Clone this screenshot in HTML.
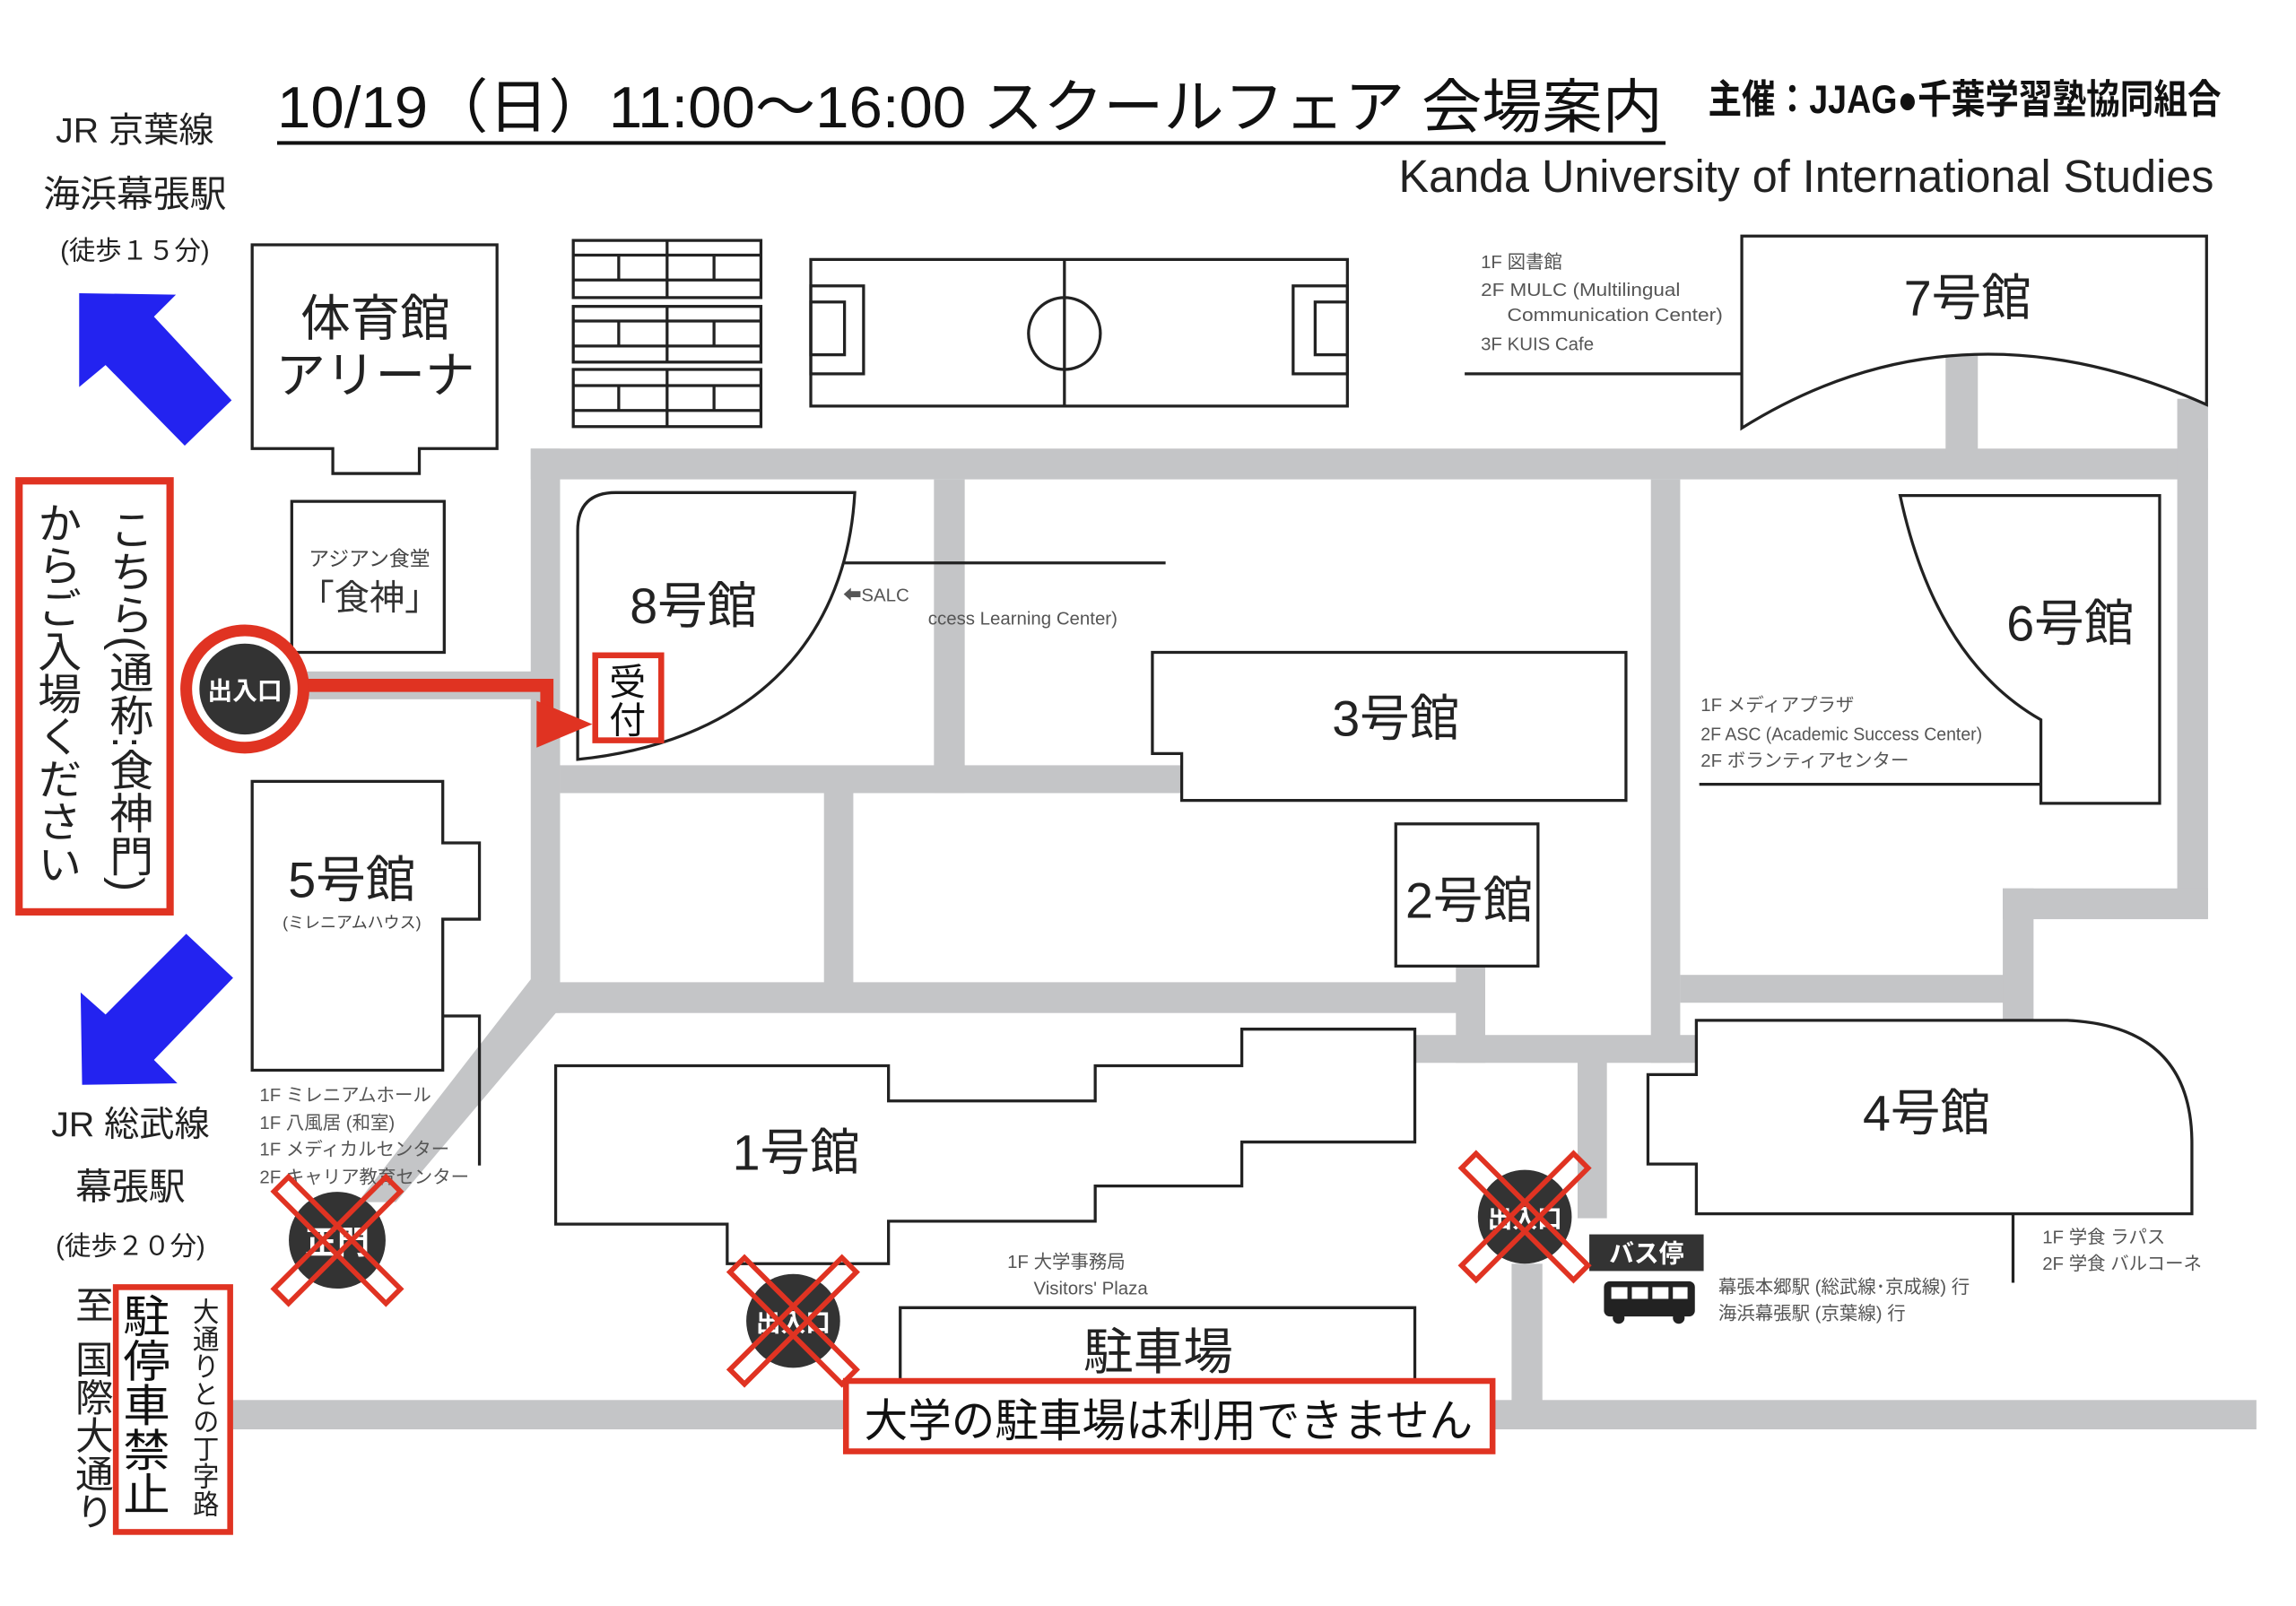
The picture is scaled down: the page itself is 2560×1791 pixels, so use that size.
<!DOCTYPE html>
<html><head><meta charset="utf-8">
<style>
html,body{margin:0;padding:0;background:#fff;}
svg{display:block;}
text{font-family:"Liberation Sans","Noto Sans CJK JP",sans-serif;}
.b{fill:#fff;stroke:#222;stroke-width:2;}
.r{fill:#c4c5c7;}
.lbl{font-size:34px;fill:#222;text-anchor:middle;}
.note{font-size:12.5px;fill:#555;}
</style></head>
<body>
<svg width="2560" height="1791" viewBox="0 0 1566 1095.5" preserveAspectRatio="none" xmlns="http://www.w3.org/2000/svg">
<rect x="0" y="0" width="1566" height="1096" fill="#fff"/>

<!-- Roads -->
<g class="r">
<rect x="362" y="306" width="1144" height="21"/>
<rect x="362" y="306" width="20" height="385"/>
<rect x="1485" y="272" width="21" height="354"/>
<rect x="1327" y="238" width="22" height="70"/>
<rect x="637" y="327" width="21" height="214"/>
<rect x="382" y="522" width="424" height="19"/>
<rect x="562" y="540" width="20" height="140"/>
<rect x="362" y="670" width="651" height="21"/>
<rect x="993" y="659" width="20" height="66"/>
<rect x="965" y="706" width="192" height="19"/>
<rect x="1126" y="327" width="20" height="398"/>
<rect x="1146" y="665" width="240" height="19"/>
<rect x="1366" y="606" width="21" height="90"/>
<rect x="1366" y="606" width="140" height="21"/>
<rect x="1076" y="724" width="20" height="107"/>
<rect x="1031" y="862" width="21" height="100"/>
<rect x="159" y="955" width="1380" height="20"/>
<rect x="200" y="458" width="165" height="19"/>
<polygon points="362,668 382,672 380,690 270,820 244,820"/>
</g>

<!-- Title -->
<text x="189" y="87" font-size="40" fill="#111" textLength="945" lengthAdjust="spacingAndGlyphs">10/19（日）11:00〜16:00  スクールフェア  会場案内</text>
<line x1="189" y1="97.5" x2="1136" y2="97.5" stroke="#111" stroke-width="2.5"/>
<text x="1165" y="77" font-size="27" font-weight="bold" fill="#111" textLength="350" lengthAdjust="spacingAndGlyphs">主催：JJAG●千葉学習塾協同組合</text>
<text x="954" y="131" font-size="31" fill="#222" textLength="556" lengthAdjust="spacingAndGlyphs">Kanda University of International Studies</text>

<!-- Left station texts -->
<text x="92" y="97" font-size="24" text-anchor="middle" fill="#222">JR 京葉線</text>
<text x="92" y="141" font-size="25" text-anchor="middle" fill="#222">海浜幕張駅</text>
<text x="92" y="177" font-size="18" text-anchor="middle" fill="#222">(徒歩１５分)</text>
<polygon points="54,200 120,201 105,216 158,273 126,304 72,249 54,264" fill="#2323f0"/>
<polygon points="127,637 159,667 105,723 121,739 56,740 55,677 72,692" fill="#2323f0"/>
<text x="89" y="775" font-size="24" text-anchor="middle" fill="#222">JR 総武線</text>
<text x="89" y="818" font-size="25" text-anchor="middle" fill="#222">幕張駅</text>
<text x="89" y="856" font-size="18" text-anchor="middle" fill="#222">(徒歩２０分)</text>

<!-- Gym -->
<path class="b" d="M172,167 H339 V306 H286 V323 H227 V306 H172 Z"/>
<text x="256" y="229" class="lbl" font-size="35">体育館</text>
<text x="256" y="268" class="lbl" font-size="35">アリーナ</text>

<!-- Bleachers -->
<g fill="none" stroke="#222" stroke-width="2">
<rect x="391" y="164" width="128" height="39"/><line x1="391" y1="174" x2="519" y2="174"/><line x1="391" y1="191" x2="519" y2="191"/><line x1="455" y1="164" x2="455" y2="203"/><line x1="422" y1="174" x2="422" y2="191"/><line x1="487" y1="174" x2="487" y2="191"/>
<rect x="391" y="209" width="128" height="38"/><line x1="391" y1="219" x2="519" y2="219"/><line x1="391" y1="236" x2="519" y2="236"/><line x1="455" y1="209" x2="455" y2="247"/><line x1="422" y1="219" x2="422" y2="236"/><line x1="487" y1="219" x2="487" y2="236"/>
<rect x="391" y="252" width="128" height="39"/><line x1="391" y1="263" x2="519" y2="263"/><line x1="391" y1="280" x2="519" y2="280"/><line x1="455" y1="252" x2="455" y2="291"/><line x1="422" y1="263" x2="422" y2="280"/><line x1="487" y1="263" x2="487" y2="280"/>
<!-- Soccer -->
<rect x="553" y="177" width="366" height="100"/>
<line x1="726" y1="177" x2="726" y2="277"/>
<circle cx="726" cy="227.5" r="24.5"/>
<rect x="553" y="195" width="36" height="60"/><rect x="553" y="206" width="23" height="36"/>
<rect x="882" y="195" width="37" height="60"/><rect x="897" y="206" width="22" height="36"/>
</g>

<!-- 7号館 -->
<path class="b" d="M1188,161 H1505 V276 Q1335,200 1188,292 Z"/>
<text x="1342" y="215" class="lbl">7号館</text>
<line x1="999" y1="255" x2="1188" y2="255" stroke="#222" stroke-width="2"/>
<text x="1010" y="183" class="note">1F 図書館</text>
<text x="1010" y="202" class="note" textLength="136" lengthAdjust="spacingAndGlyphs">2F MULC (Multilingual</text>
<text x="1028" y="219" class="note" textLength="147" lengthAdjust="spacingAndGlyphs">Communication Center)</text>
<text x="1010" y="239" class="note">3F KUIS Cafe</text>

<!-- Asian cafeteria -->
<rect class="b" x="199" y="342" width="104" height="103"/>
<text x="252" y="386" font-size="14" text-anchor="middle" fill="#444">アジアン食堂</text>
<text x="252" y="416" font-size="24" text-anchor="middle" fill="#333">「食神」</text>

<!-- 8号館 -->
<path class="b" d="M394,518 V362 Q394,336 420,336 H583 C578,430 520,505 394,518 Z"/>
<text x="473" y="425" class="lbl">8号館</text>
<line x1="576" y1="384" x2="795" y2="384" stroke="#222" stroke-width="2"/>
<text x="575" y="410" class="note">⬅SALC</text>
<text x="633" y="426" class="note">ccess Learning Center)</text>
<rect x="406" y="447" width="45" height="58" fill="#fff" stroke="#e03322" stroke-width="4"/>
<text x="428" y="474" font-size="25" text-anchor="middle" fill="#111">受</text>
<text x="428" y="500" font-size="25" text-anchor="middle" fill="#111">付</text>

<!-- Red arrow & entrance -->
<path d="M210,467.5 H373 V485" fill="none" stroke="#e03322" stroke-width="9"/>
<polygon points="366,478 404,494 366,510" fill="#e03322"/>
<circle cx="167" cy="470" r="40" fill="#fff" stroke="#e03322" stroke-width="8"/>
<circle cx="167" cy="470" r="31" fill="#333"/>
<text x="167" y="477" font-size="17" font-weight="bold" text-anchor="middle" fill="#fff">出入口</text>

<!-- Left red box -->
<rect x="13" y="328" width="103" height="294" fill="none" stroke="#e03322" stroke-width="5"/>
<text x="87" y="346" font-size="30" fill="#222" style="writing-mode:vertical-rl;" textLength="262" lengthAdjust="spacingAndGlyphs">こちら(通称:食神門)</text>
<text x="38" y="342" font-size="30" fill="#222" style="writing-mode:vertical-rl;" textLength="262" lengthAdjust="spacingAndGlyphs">からご入場ください</text>

<!-- 3号館 -->
<path class="b" d="M786,445 H1109 V546 H806 V514 H786 Z"/>
<text x="952" y="502" class="lbl">3号館</text>
<!-- 2号館 -->
<rect class="b" x="952" y="562" width="97" height="97"/>
<text x="1002" y="626" class="lbl">2号館</text>

<!-- 6号館 -->
<path class="b" d="M1296,338 H1473 V548 H1392 V491 Q1320,450 1296,338 Z"/>
<text x="1412" y="437" class="lbl">6号館</text>
<line x1="1159" y1="535" x2="1392" y2="535" stroke="#222" stroke-width="2"/>
<text x="1160" y="485" class="note">1F メディアプラザ</text>
<text x="1160" y="505" class="note" textLength="192" lengthAdjust="spacingAndGlyphs">2F ASC (Academic Success Center)</text>
<text x="1160" y="523" class="note">2F ボランティアセンター</text>

<!-- 5号館 -->
<path class="b" d="M172,533 H302 V575 H327 V627 H302 V730 H172 Z"/>
<path d="M302,693 H327 V795" fill="none" stroke="#222" stroke-width="2"/>
<text x="240" y="612" class="lbl">5号館</text>
<text x="240" y="633" font-size="11" text-anchor="middle" fill="#444">(ミレニアムハウス)</text>
<text x="177" y="751" class="note" font-size="12">1F ミレニアムホール</text>
<text x="177" y="770" class="note" font-size="12">1F 八風居 (和室)</text>
<text x="177" y="788" class="note" font-size="12">1F メディカルセンター</text>
<text x="177" y="807" class="note" font-size="12">2F キャリア教育センター</text>

<!-- 1号館 -->
<path class="b" d="M379,727 H606 V751 H747 V727 H847 V702 H965 V779 H847 V809 H747 V833 H606 V862 H496 V835 H379 Z"/>
<text x="543" y="798" class="lbl">1号館</text>
<text x="687" y="865" class="note" font-size="12">1F 大学事務局</text>
<text x="705" y="883" class="note" font-size="12">Visitors' Plaza</text>

<!-- Parking -->
<path d="M614,955 V892 H965 V955" fill="#fff" stroke="#222" stroke-width="2"/>
<text x="790" y="934" class="lbl" font-size="33">駐車場</text>
<rect x="577" y="942" width="441" height="48" fill="#fff" stroke="#e03322" stroke-width="4"/>
<text x="797" y="980" font-size="31" text-anchor="middle" fill="#111" textLength="415" lengthAdjust="spacingAndGlyphs">大学の駐車場は利用できません</text>

<!-- 4号館 -->
<path class="b" d="M1157,696 H1410 Q1495,700 1495,780 V828 H1157 V794 H1124 V733 H1157 Z"/>
<text x="1314" y="771" class="lbl">4号館</text>
<line x1="1373" y1="828" x2="1373" y2="875" stroke="#222" stroke-width="2"/>
<text x="1393" y="848" class="note" font-size="12">1F 学食 ラパス</text>
<text x="1393" y="866" class="note" font-size="12">2F 学食 バルコーネ</text>

<!-- Bus -->
<rect x="1084" y="842" width="78" height="25" fill="#333"/>
<text x="1123" y="861" font-size="17" font-weight="bold" text-anchor="middle" fill="#fff">バス停</text>
<rect x="1094" y="874" width="62" height="24" rx="4" fill="#222"/>
<rect x="1099" y="878" width="11" height="8" fill="#fff"/><rect x="1113" y="878" width="11" height="8" fill="#fff"/><rect x="1127" y="878" width="11" height="8" fill="#fff"/><rect x="1141" y="878" width="10" height="8" fill="#fff"/>
<circle cx="1104" cy="899" r="4" fill="#222"/><circle cx="1145" cy="899" r="4" fill="#222"/>
<text x="1172" y="882" class="note" font-size="12">幕張本郷駅 (総武線･京成線) 行</text>
<text x="1172" y="900" class="note" font-size="12">海浜幕張駅 (京葉線) 行</text>

<!-- Crossed exits -->
<g>
<circle cx="230" cy="846" r="33" fill="#333"/>
<text x="230" y="855" font-size="22" font-weight="bold" text-anchor="middle" fill="#fff">正門</text>
<g transform="translate(230,846)" fill="none" stroke="#e03322" stroke-width="3.5">
<rect x="-54" y="-7" width="108" height="14" transform="rotate(45)"/>
<rect x="-54" y="-7" width="108" height="14" transform="rotate(-45)"/>
</g>
</g>
<g>
<circle cx="541" cy="901" r="32" fill="#333"/>
<text x="541" y="908" font-size="17" font-weight="bold" text-anchor="middle" fill="#fff">出入口</text>
<g transform="translate(541,901)" fill="none" stroke="#e03322" stroke-width="3.5">
<rect x="-54" y="-7" width="108" height="14" transform="rotate(45)"/>
<rect x="-54" y="-7" width="108" height="14" transform="rotate(-45)"/>
</g>
</g>
<g>
<circle cx="1040" cy="830" r="32" fill="#333"/>
<text x="1040" y="837" font-size="17" font-weight="bold" text-anchor="middle" fill="#fff">出入口</text>
<g transform="translate(1040,830)" fill="none" stroke="#e03322" stroke-width="3.5">
<rect x="-54" y="-7" width="108" height="14" transform="rotate(45)"/>
<rect x="-54" y="-7" width="108" height="14" transform="rotate(-45)"/>
</g>
</g>

<!-- Bottom-left -->
<text x="62" y="877" font-size="26" fill="#222" style="writing-mode:vertical-rl;">至</text>
<text x="62" y="914" font-size="26" fill="#222" style="writing-mode:vertical-rl;" textLength="130" lengthAdjust="spacingAndGlyphs">国際大通り</text>
<rect x="79" y="878" width="78" height="167" fill="#fff" stroke="#e03322" stroke-width="4"/>
<text x="97" y="882" font-size="32" fill="#111" style="writing-mode:vertical-rl;" textLength="152" lengthAdjust="spacingAndGlyphs">駐停車禁止</text>
<text x="139" y="885" font-size="18" fill="#222" style="writing-mode:vertical-rl;" textLength="150" lengthAdjust="spacingAndGlyphs">大通りとの丁字路</text>
</svg>
</body></html>
